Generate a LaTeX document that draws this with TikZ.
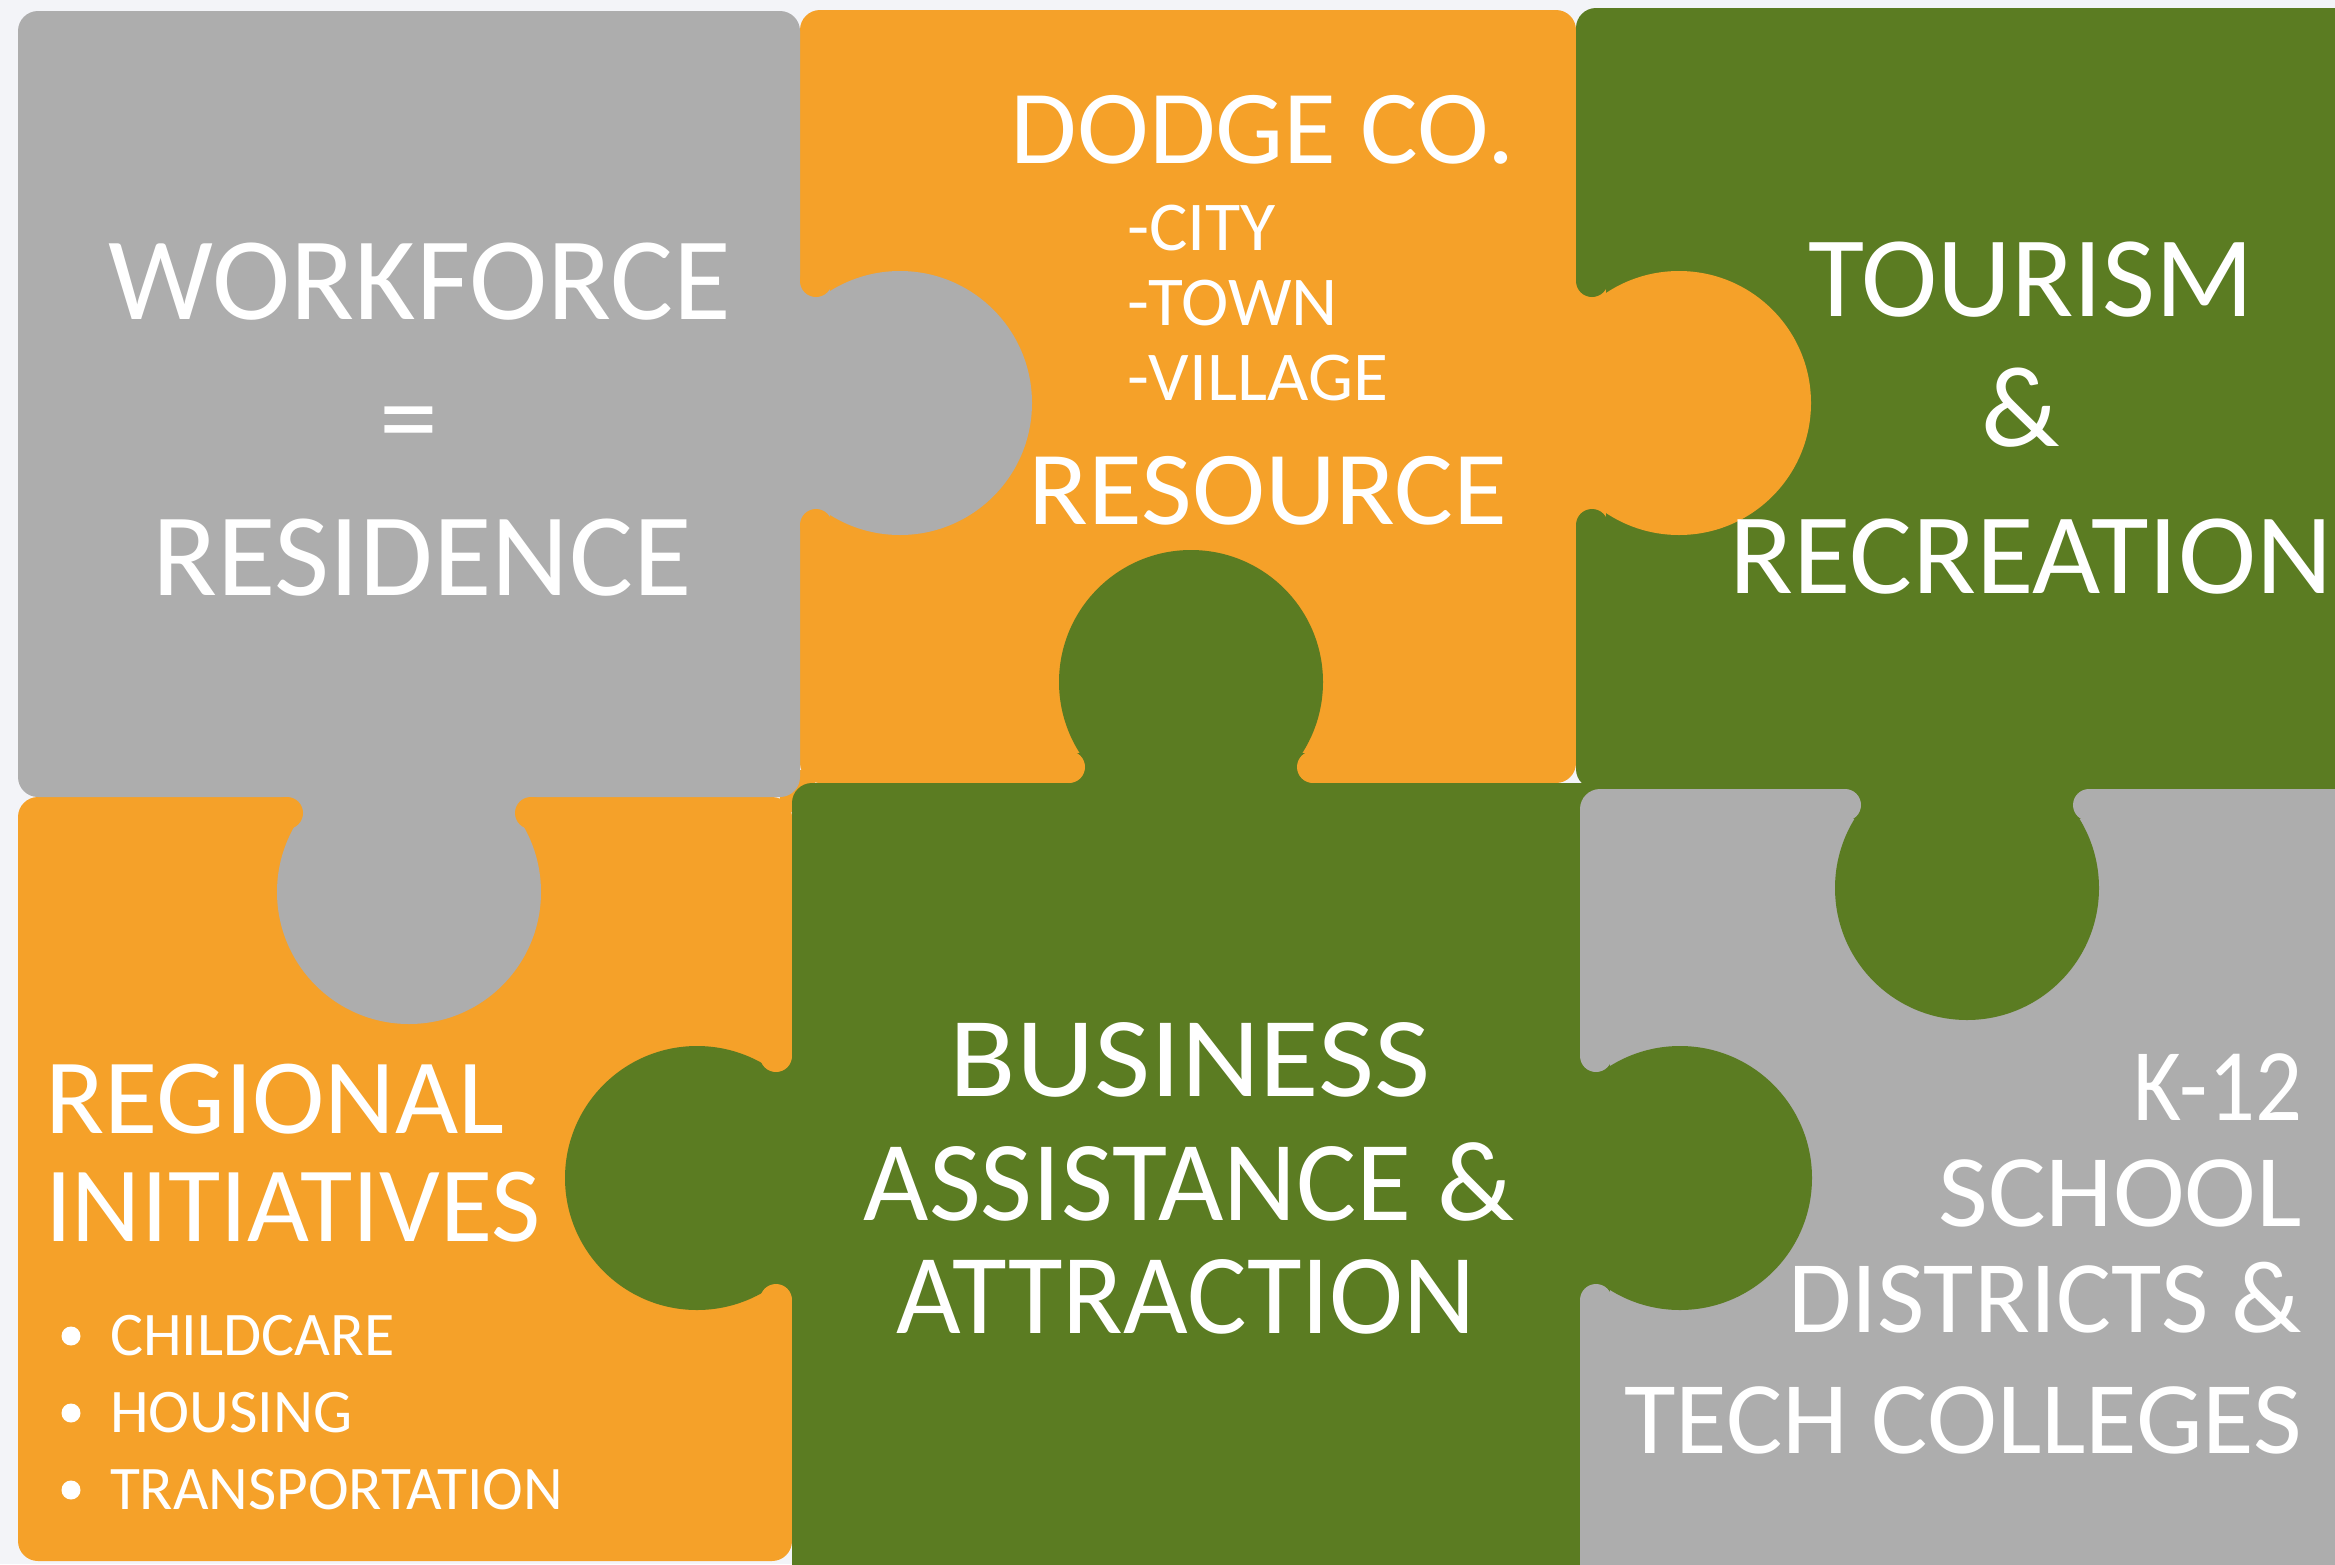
\documentclass[tikz,border=0pt]{standalone}
\usepackage{graphicx}
\usepackage{fontspec}
\setmainfont{Carlito}
\definecolor{bgc}{RGB}{243,244,248}
\definecolor{pgray}{RGB}{173,173,173}
\definecolor{porange}{RGB}{245,161,41}
\definecolor{pgreen}{RGB}{91,124,34}
\newcommand{\fsz}[1]{\fontsize{#1}{#1}\selectfont}
\newcommand{\wide}[2]{\scalebox{#1}[1]{#2}}
% #1 x, #2 y, #3 rotation, #4 knob offset, #5 owner colour, #6 host colour
\newcommand{\puzzletab}[6]{%
  \begin{scope}[shift={(#1,#2)}, rotate=#3]
    \fill[#5] (#4pt,0pt) circle[radius=132pt];
    \fill[#5] (-3pt,-122pt) rectangle (30pt,122pt);
    \fill[#6] (16pt,-122pt) circle[radius=16pt];
    \fill[#6] (16pt,122pt) circle[radius=16pt];
  \end{scope}}
\begin{document}
\begin{tikzpicture}[x=1pt,y=-1pt,
  lbl/.style={text=white, inner sep=0pt, outer sep=0pt},
  piece/.style={rounded corners=20pt},
  dot/.style={circle, fill=white, inner sep=0pt, minimum size=19pt}]
\fill[bgc] (0,0) rectangle (2335,1564);
\useasboundingbox (0,0) rectangle (2335,1564);
\clip (0,0) rectangle (2335,1564);
% pieces
\fill[porange] (780,770) rectangle (815,812);
\fill[porange, piece] (800,10) rectangle (1576,783);
\fill[porange, piece] (18,797) rectangle (792,1561);
\fill[pgray, piece] (18,11) rectangle (800,797);
\fill[pgreen, piece] (1576,8) rectangle (2360,789);
\fill[pgreen, piece] (792,783) rectangle (1580,1590);
\fill[pgreen] (1560,783) rectangle (1610,815);
\fill[pgray, piece] (1580,789) rectangle (2360,1590);
% tabs
\puzzletab{800}{403}{0}{100}{pgray}{porange}
\puzzletab{409}{797}{-90}{95}{pgray}{porange}
\puzzletab{1576}{403}{0}{103}{porange}{pgreen}
\puzzletab{1191}{783}{90}{101}{pgreen}{porange}
\puzzletab{1967}{789}{-90}{99}{pgreen}{pgray}
\puzzletab{792}{1178}{180}{95}{pgreen}{porange}
\puzzletab{1580}{1178}{0}{100}{pgreen}{pgray}
% texts
\node[lbl, anchor=base, font=\fsz{118}] (wf) at (420,319) {WORKFORCE};
\node[lbl, anchor=base, font=\fsz{118}] (eq) at (409,457) {=};
\node[lbl, anchor=base, font=\fsz{118}] (res) at (422,595) {\wide{1.015}{RESIDENCE}};
\node[lbl, anchor=base, font=\fsz{105}] (dodge) at (1263,163) {\wide{1.03}{DODGE CO.}};
\node[lbl, anchor=base west, font=\fsz{70}] (city) at (1127,250) {\wide{1.03}{-CITY}};
\node[lbl, anchor=base west, font=\fsz{70}] (town) at (1127,325) {\wide{1.02}{-TOWN}};
\node[lbl, anchor=base west, font=\fsz{70}] (village) at (1127,400) {\wide{1.02}{-VILLAGE}};
\node[lbl, anchor=base, font=\fsz{105}] (resource) at (1268,524) {\wide{1.05}{RESOURCE}};
\node[lbl, anchor=base, font=\fsz{115}] (tour) at (2031,316) {TOURISM};
\node[lbl, anchor=base, font=\fsz{115}] (amp) at (2021,446) {\&};
\node[lbl, anchor=base, font=\fsz{115}] (recr) at (2031,593) {\wide{1.025}{RECREATION}};
\node[lbl, anchor=base west, font=\fsz{107}] (regional) at (45,1133) {\wide{1.02}{REGIONAL}};
\node[lbl, anchor=base west, font=\fsz{107}] (initiatives) at (45,1241) {INITIATIVES};
\node[dot] (b1) at (71,1336) {};
\node[dot] (b2) at (71,1413) {};
\node[dot] (b3) at (71,1490) {};
\node[lbl, anchor=base west, font=\fsz{62}] (child) at (110,1355) {CHILDCARE};
\node[lbl, anchor=base west, font=\fsz{62}] (housing) at (110,1432) {HOUSING};
\node[lbl, anchor=base west, font=\fsz{62}] (transp) at (110,1509) {\wide{0.99}{TRANSPORTATION}};
\node[lbl, anchor=base, font=\fsz{114}] (bus) at (1190,1096) {\wide{1.07}{BUSINESS}};
\node[lbl, anchor=base, font=\fsz{114}] (assist) at (1189,1220) {\wide{0.99}{ASSISTANCE \&}};
\node[lbl, anchor=base, font=\fsz{114}] (attract) at (1186,1333) {\wide{0.98}{ATTRACTION}};
\node[lbl, anchor=base east, font=\fsz{103}] (k12) at (2302,1120) {\wide{0.9}{K-12}};
\node[lbl, anchor=base east, font=\fsz{103}] (school) at (2302,1226) {\wide{1.05}{SCHOOL}};
\node[lbl, anchor=base east, font=\fsz{103}] (districts) at (2302,1332) {DISTRICTS \&};
\node[lbl, anchor=base east, font=\fsz{103}] (tech) at (2302,1453) {\wide{1.025}{TECH COLLEGES}};
\end{tikzpicture}
\end{document}
